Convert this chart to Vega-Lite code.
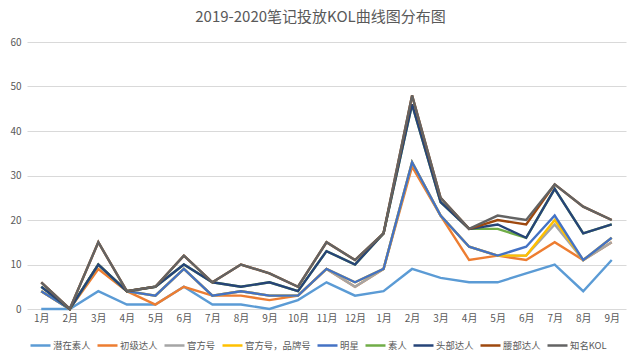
{
  "$schema": "https://vega.github.io/schema/vega-lite/v6.json",
  "width": 599,
  "height": 267,
  "autosize": "none",
  "padding": {"left": 27, "top": 42, "right": 14, "bottom": 53},
  "background": "#ffffff",
  "title": {
    "text": "2019-2020笔记投放KOL曲线图分布图",
    "font": "Noto Sans CJK SC",
    "fontSize": 15,
    "fontWeight": "normal",
    "color": "#595959",
    "anchor": "middle",
    "dx": -6,
    "offset": 12
  },
  "data": {
    "values": [
      {"t": "2019-01", "潜在素人": 0, "初级达人": 4, "官方号": 4, "官方号，品牌号": 4, "明星": 4, "素人": 5, "头部达人": 5, "腰部达人": 6, "知名KOL": 6},
      {"t": "2019-02", "潜在素人": 0, "初级达人": 0, "官方号": 0, "官方号，品牌号": 0, "明星": 0, "素人": 0, "头部达人": 0, "腰部达人": 0, "知名KOL": 0},
      {"t": "2019-03", "潜在素人": 4, "初级达人": 9, "官方号": 10, "官方号，品牌号": 10, "明星": 10, "素人": 10, "头部达人": 10, "腰部达人": 15, "知名KOL": 15},
      {"t": "2019-04", "潜在素人": 1, "初级达人": 4, "官方号": 4, "官方号，品牌号": 4, "明星": 4, "素人": 4, "头部达人": 4, "腰部达人": 4, "知名KOL": 4},
      {"t": "2019-05", "潜在素人": 1, "初级达人": 1, "官方号": 3, "官方号，品牌号": 3, "明星": 3, "素人": 5, "头部达人": 5, "腰部达人": 5, "知名KOL": 5},
      {"t": "2019-06", "潜在素人": 5, "初级达人": 5, "官方号": 9, "官方号，品牌号": 9, "明星": 9, "素人": 10, "头部达人": 10, "腰部达人": 12, "知名KOL": 12},
      {"t": "2019-07", "潜在素人": 1, "初级达人": 3, "官方号": 3, "官方号，品牌号": 3, "明星": 3, "素人": 6, "头部达人": 6, "腰部达人": 6, "知名KOL": 6},
      {"t": "2019-08", "潜在素人": 1, "初级达人": 3, "官方号": 4, "官方号，品牌号": 4, "明星": 4, "素人": 5, "头部达人": 5, "腰部达人": 10, "知名KOL": 10},
      {"t": "2019-09", "潜在素人": 0, "初级达人": 2, "官方号": 3, "官方号，品牌号": 3, "明星": 3, "素人": 6, "头部达人": 6, "腰部达人": 8, "知名KOL": 8},
      {"t": "2019-10", "潜在素人": 2, "初级达人": 3, "官方号": 3, "官方号，品牌号": 3, "明星": 3, "素人": 4, "头部达人": 4, "腰部达人": 5, "知名KOL": 5},
      {"t": "2019-11", "潜在素人": 6, "初级达人": 9, "官方号": 9, "官方号，品牌号": 9, "明星": 9, "素人": 13, "头部达人": 13, "腰部达人": 15, "知名KOL": 15},
      {"t": "2019-12", "潜在素人": 3, "初级达人": 5, "官方号": 5, "官方号，品牌号": 6, "明星": 6, "素人": 10, "头部达人": 10, "腰部达人": 11, "知名KOL": 11},
      {"t": "2020-01", "潜在素人": 4, "初级达人": 9, "官方号": 9, "官方号，品牌号": 9, "明星": 9, "素人": 17, "头部达人": 17, "腰部达人": 17, "知名KOL": 17},
      {"t": "2020-02", "潜在素人": 9, "初级达人": 32, "官方号": 33, "官方号，品牌号": 33, "明星": 33, "素人": 46, "头部达人": 46, "腰部达人": 48, "知名KOL": 48},
      {"t": "2020-03", "潜在素人": 7, "初级达人": 21, "官方号": 21, "官方号，品牌号": 21, "明星": 21, "素人": 24, "头部达人": 24, "腰部达人": 25, "知名KOL": 25},
      {"t": "2020-04", "潜在素人": 6, "初级达人": 11, "官方号": 14, "官方号，品牌号": 14, "明星": 14, "素人": 18, "头部达人": 18, "腰部达人": 18, "知名KOL": 18},
      {"t": "2020-05", "潜在素人": 6, "初级达人": 12, "官方号": 12, "官方号，品牌号": 12, "明星": 12, "素人": 18, "头部达人": 19, "腰部达人": 20, "知名KOL": 21},
      {"t": "2020-06", "潜在素人": 8, "初级达人": 11, "官方号": 12, "官方号，品牌号": 12, "明星": 14, "素人": 16, "头部达人": 16, "腰部达人": 19, "知名KOL": 20},
      {"t": "2020-07", "潜在素人": 10, "初级达人": 15, "官方号": 19, "官方号，品牌号": 20, "明星": 21, "素人": 27, "头部达人": 27, "腰部达人": 28, "知名KOL": 28},
      {"t": "2020-08", "潜在素人": 4, "初级达人": 11, "官方号": 11, "官方号，品牌号": 11, "明星": 11, "素人": 17, "头部达人": 17, "腰部达人": 23, "知名KOL": 23},
      {"t": "2020-09", "潜在素人": 11, "初级达人": 15, "官方号": 15, "官方号，品牌号": 16, "明星": 16, "素人": 19, "头部达人": 19, "腰部达人": 20, "知名KOL": 20}
    ]
  },
  "transform": [
    {"fold": ["潜在素人", "初级达人", "官方号", "官方号，品牌号", "明星", "素人", "头部达人", "腰部达人", "知名KOL"], "as": ["series", "value"]}
  ],
  "mark": {"type": "line", "strokeWidth": 2.4, "strokeJoin": "miter", "interpolate": "linear"},
  "encoding": {
    "x": {
      "field": "t",
      "type": "ordinal",
      "sort": null,
      "scale": {"type": "point", "padding": 0.5},
      "axis": {
        "title": null,
        "labelAngle": 0,
        "labelExpr": "parseInt(substring(datum.value, 5)) + '月'",
        "labelFont": "Noto Sans CJK SC",
        "labelFontSize": 10,
        "labelColor": "#595959",
        "labelPadding": 4,
        "domain": false,
        "ticks": false,
        "grid": false
      }
    },
    "y": {
      "field": "value",
      "type": "quantitative",
      "scale": {"domain": [0, 60]},
      "axis": {
        "title": null,
        "values": [0, 10, 20, 30, 40, 50, 60],
        "labelFont": "Noto Sans CJK SC",
        "labelFontSize": 10,
        "labelColor": "#595959",
        "labelPadding": 6,
        "domain": false,
        "ticks": false,
        "grid": true,
        "gridColor": "#D9D9D9",
        "gridWidth": 1
      }
    },
    "color": {
      "field": "series",
      "type": "nominal",
      "scale": {
        "domain": ["潜在素人", "初级达人", "官方号", "官方号，品牌号", "明星", "素人", "头部达人", "腰部达人", "知名KOL"],
        "range": ["#5B9BD5", "#ED7D31", "#A5A5A5", "#FFC000", "#4472C4", "#70AD47", "#264478", "#9E480E", "#636363"]
      },
      "legend": {
        "title": null,
        "orient": "none",
        "direction": "horizontal",
        "legendX": 2,
        "legendY": 292,
        "columns": 9,
        "columnPadding": 1,
        "padding": 0,
        "gridAlign": "none",
        "symbolType": "stroke",
        "symbolSize": 400,
        "symbolStrokeWidth": 2.5,
        "labelFont": "Noto Sans CJK SC",
        "labelFontSize": 9.4,
        "labelColor": "#595959",
        "labelOffset": 1
      }
    }
  },
  "config": {
    "view": {"stroke": null}
  }
}
